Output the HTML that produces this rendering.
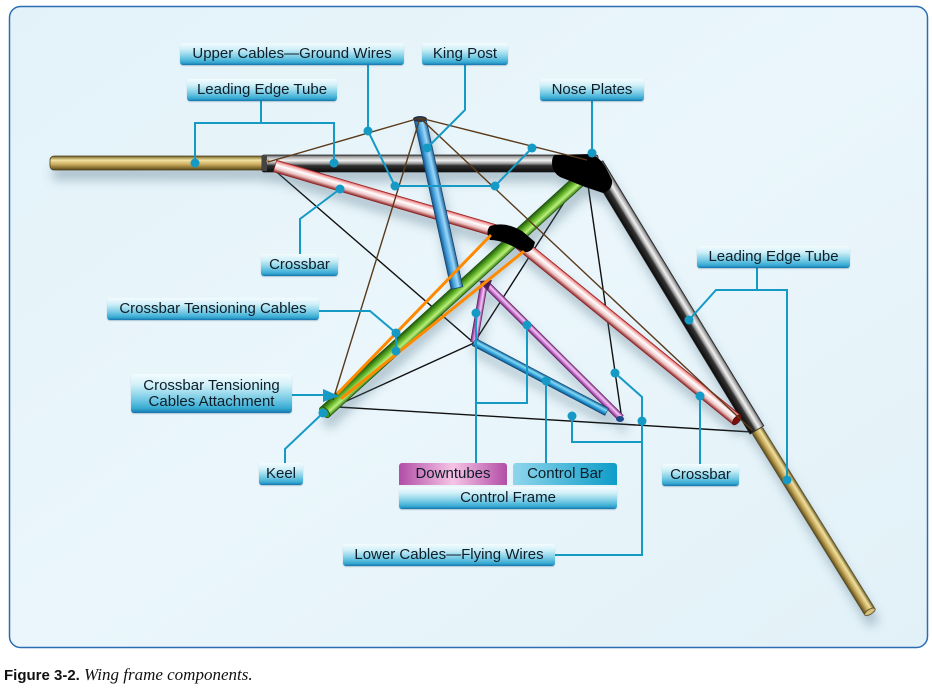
<!DOCTYPE html>
<html><head><meta charset="utf-8"><style>
html,body{margin:0;padding:0;background:#fff;}
#w{position:relative;width:932px;height:689px;overflow:hidden;background:#fff;}
svg{position:absolute;left:0;top:0;}
.lb{position:absolute;box-sizing:border-box;border-radius:3px;background:linear-gradient(#f4fcff 0%,#d0f0f8 28%,#7ccde6 62%,#36aad3 88%,#1674ac 100%);font:15px "Liberation Sans",sans-serif;color:#0f1d28;display:flex;align-items:center;justify-content:center;white-space:nowrap;box-shadow:0 1px 1px rgba(0,60,100,.25);text-align:center;line-height:16px;}
.cap{position:absolute;left:4px;top:665px;font:bold 15px "Liberation Sans",sans-serif;color:#111;white-space:nowrap;}
.cap i{font:italic 17px "Liberation Serif",serif;font-weight:normal;}
</style></head><body><div id="w">
<svg width="932" height="689" viewBox="0 0 932 689">
<defs>
<linearGradient id="bg" x1="0" y1="0" x2="1" y2="1"><stop offset="0" stop-color="#e3f2f9"/><stop offset="0.5" stop-color="#eaf6fb"/><stop offset="1" stop-color="#e2f1f8"/></linearGradient>
<linearGradient id="gGray" x1="0" y1="0" x2="0" y2="1"><stop offset="0" stop-color="#4a4a4a"/><stop offset="0.12" stop-color="#a8a8a8"/><stop offset="0.32" stop-color="#f2f2f2"/><stop offset="0.5" stop-color="#9a9a9a"/><stop offset="0.62" stop-color="#333"/><stop offset="1" stop-color="#0a0a0a"/></linearGradient>
<linearGradient id="gTan" x1="0" y1="0" x2="0" y2="1"><stop offset="0" stop-color="#6b5a20"/><stop offset="0.3" stop-color="#f2e2a2"/><stop offset="0.6" stop-color="#c9ab5c"/><stop offset="1" stop-color="#5a4a18"/></linearGradient>
<linearGradient id="gPink" x1="0" y1="0" x2="0" y2="1"><stop offset="0" stop-color="#c02020"/><stop offset="0.12" stop-color="#f4a0a0"/><stop offset="0.38" stop-color="#ffffff"/><stop offset="0.7" stop-color="#ecc0c0"/><stop offset="1" stop-color="#8a2020"/></linearGradient>
<linearGradient id="gGreen" x1="0" y1="0" x2="0" y2="1"><stop offset="0" stop-color="#2e7a10"/><stop offset="0.3" stop-color="#bcf07c"/><stop offset="0.6" stop-color="#66b82c"/><stop offset="1" stop-color="#1e560a"/></linearGradient>
<linearGradient id="gBlue" x1="0" y1="0" x2="0" y2="1"><stop offset="0" stop-color="#1a5e96"/><stop offset="0.35" stop-color="#9ad8fa"/><stop offset="0.7" stop-color="#46a0dc"/><stop offset="1" stop-color="#145088"/></linearGradient>
<linearGradient id="gPur" x1="0" y1="0" x2="0" y2="1"><stop offset="0" stop-color="#7a2a7a"/><stop offset="0.35" stop-color="#f8c8f8"/><stop offset="0.7" stop-color="#c070c8"/><stop offset="1" stop-color="#6a206a"/></linearGradient>
<linearGradient id="gCb" x1="0" y1="0" x2="0" y2="1"><stop offset="0" stop-color="#0a5a90"/><stop offset="0.35" stop-color="#84daf8"/><stop offset="0.7" stop-color="#2a98d0"/><stop offset="1" stop-color="#0a4a80"/></linearGradient>
<filter id="sh" x="-20%" y="-20%" width="140%" height="160%">
<feDropShadow dx="3" dy="10" stdDeviation="5" flood-color="#4a6a80" flood-opacity="0.35"/>
</filter>
</defs>
<rect x="9.5" y="6.5" width="918" height="641" rx="11" fill="url(#bg)" stroke="#2c6cb2" stroke-width="1.5"/>

<g fill="none" stroke-width="1.4">
<g stroke="#111">
<line x1="272" y1="168" x2="474" y2="343"/>
<line x1="590" y1="162" x2="474" y2="343"/>
<line x1="588" y1="185" x2="622" y2="420"/>
<line x1="340" y1="404" x2="474" y2="343"/>
<line x1="338" y1="407" x2="752" y2="432"/>
</g>
</g>

<g filter="url(#sh)">
<rect x="50" y="156" width="216" height="14" rx="4" fill="url(#gTan)" stroke="#4a3e1a" stroke-width="0.8"/>
<rect x="262" y="155" width="336" height="17" rx="2" fill="url(#gGray)" stroke="#222" stroke-width="0.8"/>
<g transform="translate(596,165) rotate(58.72)"><rect x="0" y="-8" width="310" height="16" fill="url(#gGray)" stroke="#222" stroke-width="0.8"/></g>
<g transform="translate(757,430) rotate(58.17)"><rect x="0" y="-6" width="214" height="12" rx="2" fill="url(#gTan)" stroke="#4a3e1a" stroke-width="0.8"/><ellipse cx="214" cy="0" rx="2.5" ry="6" fill="#d8c27a" stroke="#4a3e1a" stroke-width="0.8"/></g>
<g transform="translate(275,166) rotate(16.35)"><rect x="0" y="-6" width="235" height="12" fill="url(#gPink)" stroke="#8a1a1a" stroke-width="0.6"/></g>
<g transform="translate(518,242) rotate(39.1)"><rect x="0" y="-6" width="282" height="12" fill="url(#gPink)" stroke="#8a1a1a" stroke-width="0.6"/><ellipse cx="282" cy="0" rx="3" ry="6" fill="#7a0a0a" stroke="#4a0a0a" stroke-width="0.6"/></g>
<g transform="translate(582,178) rotate(137.68)"><rect x="0" y="-6.5" width="348" height="13" fill="url(#gGreen)" stroke="#1c4c08" stroke-width="0.6"/><ellipse cx="348" cy="0" rx="3.5" ry="6.5" fill="#3a9a20" stroke="#1c4c08" stroke-width="0.8"/><ellipse cx="348" cy="0" rx="1.5" ry="3" fill="#1b3a0a"/></g>
<path d="M490,226 Q505,221 522,231 L535,242 Q533,253 524,252 L512,246 Q500,240 490,240 Q485,232 490,226 Z" fill="#050505"/>
<g transform="translate(420,119) rotate(77.65)"><rect x="0" y="-6" width="173" height="12" fill="url(#gBlue)" stroke="#0e3a66" stroke-width="0.6"/></g>
<ellipse cx="420" cy="119" rx="7" ry="3" fill="#1a3050"/>
<g transform="translate(484,284) rotate(99.78)"><rect x="0" y="-3.5" width="59" height="7" fill="url(#gPur)" stroke="#5a1a5a" stroke-width="0.5"/></g>
<g transform="translate(486,284) rotate(44.79)"><rect x="0" y="-3.5" width="190" height="7" fill="url(#gPur)" stroke="#5a1a5a" stroke-width="0.5"/></g>
<g transform="translate(474,342) rotate(27.79)"><rect x="0" y="-4" width="150" height="8" fill="url(#gCb)" stroke="#0a3a66" stroke-width="0.5"/></g>
<path d="M479,281 L492,280 L488,290 Z" fill="#4a1a5a"/>
<ellipse cx="620" cy="419" rx="4" ry="3" fill="#1a4a8a"/>
<path d="M555,155 L590,154 Q600,157 606,168 L612,180 Q613,190 603,193 L585,187 L560,177 Q552,172 552,163 Q552,156 555,155 Z" fill="#050505"/>
</g>
<rect x="262" y="156" width="5" height="15" fill="#444"/>
<circle cx="268" cy="161" r="1.6" fill="#b09050"/>

<g stroke="#ff8a00" stroke-width="3" fill="none" stroke-linecap="round">
<line x1="490" y1="236" x2="338" y2="393"/>
<line x1="523" y1="252" x2="342" y2="398"/>
</g>

<g stroke="#5a3a1a" stroke-width="1.4" fill="none">
<line x1="420" y1="118" x2="268" y2="162"/>
<line x1="420" y1="118" x2="587" y2="160"/>
<line x1="420" y1="118" x2="752" y2="430"/>
<line x1="420" y1="118" x2="333" y2="400"/>
</g>

<g stroke="#159ac6" stroke-width="2" fill="none">
<polyline points="368,65 368,131 395,186 495,186 532,148"/>
<polyline points="465,65 465,110 427,148"/>
<line x1="261" y1="101" x2="261" y2="123"/>
<polyline points="195,163 195,123 334,123 334,163"/>
<line x1="592" y1="101" x2="592" y2="153"/>
<polyline points="300,254 300,219 340,189"/>
<polyline points="319,311 370,311 396,333 396,351"/>
<line x1="292" y1="395" x2="326" y2="395"/>
<polyline points="285,463 285,449 323,413"/>
<line x1="476" y1="463" x2="476" y2="313"/>
<polyline points="476,403 527,403 527,325"/>
<line x1="546" y1="463" x2="546" y2="381"/>
<line x1="700" y1="464" x2="700" y2="396"/>
<line x1="757" y1="268" x2="757" y2="290"/>
<polyline points="689,320 716,290 787,290 787,480"/>
<polyline points="555,555 642,555 642,397 615,373"/>
<polyline points="572,416 572,442 642,442"/>
</g>
<path d="M323,389 L339,396 L323,402 Z" fill="#159ac6"/>
<g fill="#159ac6">
<circle cx="368" cy="131" r="4.5"/><circle cx="395" cy="186" r="4.5"/><circle cx="495" cy="186" r="4.5"/><circle cx="532" cy="148" r="4.5"/>
<circle cx="427" cy="148" r="4.5"/>
<circle cx="195" cy="163" r="4.5"/><circle cx="334" cy="163" r="4.5"/>
<circle cx="592" cy="153" r="4.5"/>
<circle cx="340" cy="189" r="4.5"/>
<circle cx="396" cy="333" r="4.5"/><circle cx="396" cy="351" r="4.5"/>
<circle cx="323" cy="413" r="4.5"/>
<circle cx="476" cy="313" r="4.5"/><circle cx="527" cy="325" r="4.5"/>
<circle cx="546" cy="381" r="4.5"/>
<circle cx="700" cy="396" r="4.5"/>
<circle cx="689" cy="320" r="4.5"/><circle cx="787" cy="480" r="4.5"/>
<circle cx="615" cy="373" r="4.5"/><circle cx="642" cy="421" r="4.5"/><circle cx="572" cy="416" r="4.5"/>
</g>
</svg>

<div class="lb" style="left:180px;top:43px;width:224px;height:22px;">Upper Cables—Ground Wires</div>
<div class="lb" style="left:422px;top:43px;width:86px;height:22px;">King Post</div>
<div class="lb" style="left:187px;top:79px;width:150px;height:22px;">Leading Edge Tube</div>
<div class="lb" style="left:540px;top:79px;width:104px;height:22px;">Nose Plates</div>
<div class="lb" style="left:261px;top:254px;width:77px;height:22px;">Crossbar</div>
<div class="lb" style="left:107px;top:298px;width:212px;height:22px;">Crossbar Tensioning Cables</div>
<div class="lb" style="left:131px;top:374px;width:161px;height:39px;">Crossbar Tensioning<br>Cables Attachment</div>
<div class="lb" style="left:259px;top:463px;width:44px;height:22px;">Keel</div>
<div class="lb" style="left:399px;top:487px;width:218px;height:22px;">Control Frame</div>
<div class="lb" style="left:399px;top:463px;width:108px;height:22px;background:linear-gradient(to right,#b24ea6,#f6c4e6 50%,#b24ea6);box-shadow:none;border-radius:3px 3px 0 0;">Downtubes</div>
<div class="lb" style="left:513px;top:463px;width:104px;height:22px;background:linear-gradient(to right,#8ed6ec,#0e9cc8);box-shadow:none;border-radius:3px 3px 0 0;">Control Bar</div>
<div class="lb" style="left:662px;top:464px;width:77px;height:22px;">Crossbar</div>
<div class="lb" style="left:697px;top:246px;width:153px;height:22px;">Leading Edge Tube</div>
<div class="lb" style="left:343px;top:544px;width:212px;height:22px;">Lower Cables—Flying Wires</div>

<div class="cap">Figure 3-2. <i>Wing frame components.</i></div>
</div></body></html>
